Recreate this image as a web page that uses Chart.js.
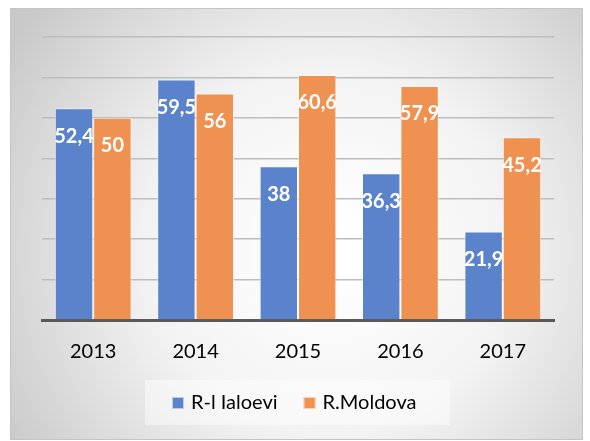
<!DOCTYPE html>
<html>
<head>
<meta charset="utf-8">
<script src="https://cdn.jsdelivr.net/npm/chart.js@4/dist/chart.umd.min.js"></script>
<style>
  html, body { margin: 0; padding: 0; background: #fff; }
  #wrap { width: 590px; height: 441px; position: relative; }
</style>
</head>
<body>
<div id="wrap"><canvas id="chart"></canvas></div>
<script>
const years = ['2013', '2014', '2015', '2016', '2017'];
const ialoveni = [52.4, 59.5, 38, 36.3, 21.9];
const moldova = [50, 56, 60.6, 57.9, 45.2];
const seriesNames = ['R-l Ialoevi', 'R.Moldova'];
const seriesColors = ['#5b83cb', '#ef9151'];

// Frame and radial grey background
const backdrop = {
  id: 'backdrop',
  beforeDraw(chart) {
    const ctx = chart.ctx;
    const x0 = 10, y0 = 8, x1 = 583, y1 = 440;
    ctx.save();
    const g = ctx.createRadialGradient(330, 250, 20, 330, 250, 380);
    g.addColorStop(0, '#ffffff');
    g.addColorStop(0.45, '#f3f3f3');
    g.addColorStop(1, '#c9c9c9');
    ctx.fillStyle = g;
    ctx.fillRect(x0, y0, x1 - x0, y1 - y0);
    ctx.strokeStyle = '#c4c4c4';
    ctx.lineWidth = 1;
    ctx.strokeRect(x0 + 0.5, y0 + 0.5, x1 - x0 - 1, y1 - y0 - 1);
    ctx.restore();
  }
};

// Legend drawn by hand so the spacing matches
const legendBox = {
  id: 'legendBox',
  afterDraw(chart) {
    const ctx = chart.ctx;
    ctx.save();
    ctx.fillStyle = 'rgba(255,255,255,0.45)';
    ctx.fillRect(145, 380, 305, 45);
    ctx.font = '20px Lato';
    ctx.textBaseline = 'middle';
    ctx.textAlign = 'left';
    let x = 172;
    seriesNames.forEach((name, i) => {
      ctx.fillStyle = seriesColors[i];
      ctx.fillRect(x, 397, 12, 12);
      ctx.strokeStyle = 'rgba(255,255,255,0.6)';
      ctx.lineWidth = 1;
      ctx.strokeRect(x + 0.5, 397.5, 11, 11);
      ctx.fillStyle = '#000';
      ctx.fillText(name, x + 19, 403);
      x += 19 + ctx.measureText(name).width + 26;
    });
    ctx.restore();
  }
};

// White value labels near the top inside each bar
const valueLabels = {
  id: 'valueLabels',
  afterDatasetsDraw(chart) {
    const ctx = chart.ctx;
    ctx.save();
    ctx.font = 'bold 20px Lato';
    ctx.fillStyle = '#ffffff';
    ctx.textAlign = 'center';
    ctx.textBaseline = 'middle';
    chart.data.datasets.forEach((ds, i) => {
      chart.getDatasetMeta(i).data.forEach((bar, j) => {
        const txt = String(ds.data[j]).replace('.', ',');
        ctx.fillText(txt, bar.x, bar.y + 28);
      });
    });
    ctx.restore();
  }
};

new Chart(document.getElementById('chart'), {
  type: 'bar',
  data: {
    labels: years,
    datasets: seriesNames.map((name, i) => ({
      label: name,
      data: i === 0 ? ialoveni : moldova,
      backgroundColor: seriesColors[i],
      borderColor: 'rgba(255,255,255,0.55)',
      borderWidth: 1
    }))
  },
  options: {
    responsive: true,
    maintainAspectRatio: false,
    animation: false,
    layout: { padding: { left: 42, right: 36, top: 37, bottom: 65 } },
    datasets: { bar: { categoryPercentage: 0.75, barPercentage: 1 } },
    scales: {
      x: {
        grid: { display: false },
        border: { color: '#595959', width: 3 },
        ticks: { color: '#000', font: { family: 'Lato', size: 20 }, padding: 12 }
      },
      y: {
        min: 0,
        max: 70,
        ticks: { display: false, stepSize: 10 },
        grid: { color: '#bdbdbd', lineWidth: 1.5, drawTicks: false },
        border: { display: false }
      }
    },
    plugins: {
      legend: { display: false },
      tooltip: { enabled: false }
    }
  },
  plugins: [backdrop, valueLabels, legendBox]
});
</script>
</body>
</html>
